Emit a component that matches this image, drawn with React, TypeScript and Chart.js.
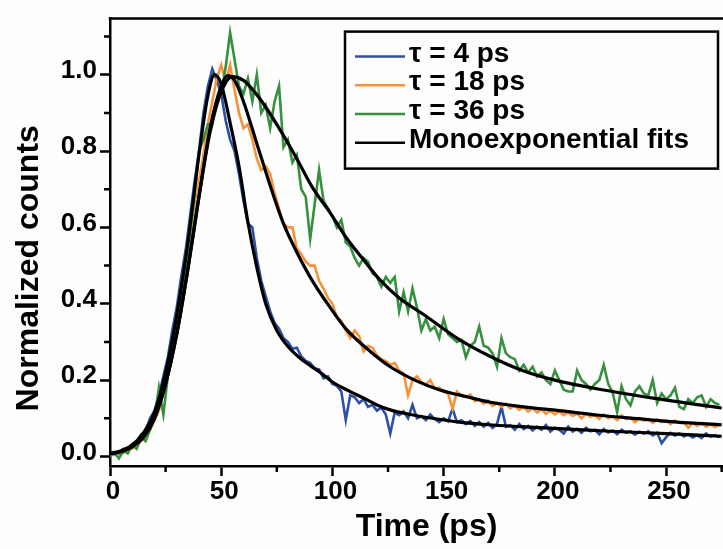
import React, { useEffect, useRef } from 'react';
import { Chart, registerables } from 'chart.js';

Chart.register(...registerables);

const FONT = "'Liberation Sans', Arial, Helvetica, sans-serif";

const X_TITLE = 'Time (ps)';
const Y_TITLE = 'Normalized counts';

const SERIES_LABELS = ['τ = 4 ps', 'τ = 18 ps', 'τ = 36 ps'];
const FIT_LABEL = 'Monoexponential fits';
const SERIES_COLORS = ['#2d50a5', '#f7923a', '#36903f'];
const FIT_COLOR = '#000000';

const X_TICKS = [0, 25, 50, 75, 100, 125, 150, 175, 200, 225, 250, 275];
const Y_TICKS = [0, 0.1, 0.2, 0.3, 0.4, 0.5, 0.6, 0.7, 0.8, 0.9, 1.0, 1.1];

const TIME_PS = [
  0, 2, 4, 6, 8, 10, 12, 14, 16, 18,
  20, 22, 24, 26, 28, 30, 32, 34, 36, 38,
  40, 42, 44, 46, 48, 50, 52, 54, 56, 58,
  60, 62, 64, 66, 68, 70, 72, 74, 76, 78,
  80, 82, 84, 86, 88, 90, 92, 94, 96, 98,
  100, 102, 104, 106, 108, 110, 112, 114, 116, 118,
  120, 122, 124, 126, 128, 130, 132, 134, 136, 138,
  140, 142, 144, 146, 148, 150, 152, 154, 156, 158,
  160, 162, 164, 166, 168, 170, 172, 174, 176, 178,
  180, 182, 184, 186, 188, 190, 192, 194, 196, 198,
  200, 202, 204, 206, 208, 210, 212, 214, 216, 218,
  220, 222, 224, 226, 228, 230, 232, 234, 236, 238,
  240, 242, 244, 246, 248, 250, 252, 254, 256, 258,
  260, 262, 264, 266, 268, 270, 272, 274,
];

const COUNTS_4PS = [
  0.005, 0.012, 0.008, 0.02, 0.018, 0.033, 0.038, 0.058, 0.066, 0.1,
  0.12, 0.16, 0.21, 0.26, 0.33, 0.39, 0.47, 0.54, 0.63, 0.72,
  0.8, 0.9, 0.97, 1.015, 0.985, 0.95, 0.88, 0.83, 0.8, 0.74,
  0.67, 0.61, 0.6, 0.52, 0.46, 0.42, 0.38, 0.35, 0.335, 0.31,
  0.3, 0.282, 0.285, 0.262, 0.25, 0.245, 0.23, 0.228, 0.205, 0.21,
  0.19, 0.185, 0.17, 0.095, 0.16, 0.155, 0.14, 0.15, 0.13, 0.135,
  0.12, 0.128, 0.11, 0.06, 0.115, 0.108, 0.118, 0.1, 0.135, 0.1,
  0.105, 0.095, 0.11, 0.098, 0.09, 0.1, 0.092, 0.125, 0.09, 0.095,
  0.085, 0.093, 0.08, 0.09, 0.078, 0.088, 0.075, 0.085, 0.13, 0.078,
  0.082, 0.07, 0.085, 0.072, 0.08, 0.068, 0.078, 0.07, 0.082, 0.065,
  0.075, 0.07, 0.06, 0.078, 0.065, 0.072, 0.062, 0.075, 0.066, 0.07,
  0.058, 0.072, 0.063, 0.068, 0.058, 0.07, 0.062, 0.066, 0.057, 0.065,
  0.06, 0.066, 0.055, 0.062, 0.035, 0.05, 0.062, 0.055, 0.06, 0.052,
  0.058, 0.05, 0.056, 0.048, 0.06, 0.052, 0.056, 0.05,
];

const COUNTS_18PS = [
  0.006, 0.004, 0.012, 0.009, 0.022, 0.02, 0.03, 0.04, 0.055, 0.07,
  0.095, 0.12, 0.17, 0.22, 0.27, 0.33, 0.4, 0.47, 0.55, 0.63,
  0.72, 0.79, 0.87, 0.93, 0.99, 1.025, 0.98, 1.025, 0.96, 0.9,
  0.86, 0.87, 0.83, 0.78, 0.75, 0.76, 0.74, 0.69, 0.65, 0.61,
  0.6, 0.6, 0.545, 0.53, 0.51, 0.5, 0.5, 0.46, 0.44, 0.415,
  0.4, 0.365, 0.355, 0.33, 0.31, 0.33, 0.315, 0.275, 0.29, 0.285,
  0.265, 0.255, 0.25, 0.24, 0.245, 0.225, 0.218, 0.16, 0.2, 0.21,
  0.195, 0.188, 0.2, 0.178, 0.18, 0.17, 0.165, 0.125, 0.17, 0.16,
  0.155, 0.162, 0.145, 0.15, 0.138, 0.146, 0.132, 0.14, 0.13, 0.138,
  0.126, 0.133, 0.122, 0.13, 0.118, 0.127, 0.115, 0.124, 0.112, 0.12,
  0.11, 0.118, 0.108, 0.116, 0.106, 0.112, 0.1, 0.112, 0.104, 0.108,
  0.098, 0.11, 0.1, 0.105, 0.095, 0.108, 0.098, 0.102, 0.09, 0.1,
  0.094, 0.098, 0.088, 0.097, 0.09, 0.094, 0.085, 0.094, 0.088, 0.09,
  0.075, 0.088, 0.08, 0.087, 0.078, 0.084, 0.077, 0.082,
];

const COUNTS_36PS = [
  0.0, 0.01, -0.005, 0.015, 0.008, 0.03, 0.02, 0.05, 0.04, 0.07,
  0.1, 0.18, 0.11, 0.21, 0.27, 0.35, 0.42, 0.5, 0.58, 0.68,
  0.8, 0.83, 0.87, 0.87, 0.93, 0.95, 1.02, 1.11, 1.04, 0.97,
  0.95, 0.99, 0.93, 1.0, 0.9, 0.92, 0.86, 0.93, 0.97, 0.81,
  0.83, 0.77, 0.79, 0.7, 0.68, 0.57, 0.66, 0.75, 0.67, 0.65,
  0.63, 0.6, 0.62, 0.56, 0.55, 0.52, 0.5, 0.52, 0.51, 0.48,
  0.47, 0.445, 0.47, 0.455, 0.47, 0.38, 0.43, 0.38, 0.44, 0.39,
  0.33, 0.36, 0.33, 0.34, 0.31, 0.36, 0.32, 0.31, 0.3, 0.305,
  0.26, 0.29, 0.3, 0.34, 0.29, 0.285, 0.27, 0.235, 0.31, 0.27,
  0.26, 0.255, 0.225, 0.24, 0.22, 0.235, 0.21, 0.22, 0.2, 0.19,
  0.225, 0.2, 0.175, 0.17, 0.17, 0.225, 0.2, 0.19, 0.175, 0.19,
  0.2, 0.24, 0.19, 0.167, 0.116, 0.184, 0.15, 0.134, 0.17, 0.184,
  0.165, 0.16, 0.2, 0.14, 0.165, 0.15, 0.16, 0.18, 0.13, 0.124,
  0.15, 0.14, 0.155, 0.16, 0.13, 0.15, 0.14, 0.135,
];

const FIT_4PS_T = [0, 5, 10, 15, 20, 25, 30, 35, 40, 44, 47, 50, 54, 58, 62, 66, 70, 75, 80, 85, 90, 95, 100, 108, 115, 120, 126, 135, 145, 157, 170, 185, 202, 225, 250, 275];
const FIT_4PS_V = [0.007, 0.015, 0.03, 0.062, 0.115, 0.22, 0.37, 0.56, 0.79, 0.945, 1.0, 0.975, 0.874, 0.76, 0.614, 0.495, 0.4, 0.33, 0.288, 0.26, 0.238, 0.218, 0.195, 0.17, 0.15, 0.135, 0.122, 0.11, 0.1, 0.09, 0.083, 0.078, 0.073, 0.066, 0.06, 0.053];

const FIT_18PS_T = [0, 5, 10, 15, 20, 25, 30, 35, 40, 45, 50, 53, 56, 60, 66, 72, 78, 84, 91, 99, 106, 117, 126, 137, 148, 160, 171, 186, 202, 220, 237, 255, 275];
const FIT_18PS_V = [0.007, 0.013, 0.026, 0.05, 0.1, 0.19, 0.32, 0.49, 0.68, 0.86, 0.97, 0.998, 0.985, 0.93, 0.82, 0.71, 0.61, 0.535, 0.46, 0.39, 0.335, 0.275, 0.235, 0.2, 0.175, 0.157, 0.142, 0.13, 0.12, 0.108, 0.099, 0.09, 0.083];

const FIT_36PS_T = [0, 5, 10, 15, 20, 25, 30, 35, 40, 45, 50, 55, 60, 65, 69, 76, 84, 91, 99, 106, 114, 121, 130, 141, 156, 171, 186, 200, 222, 245, 275];
const FIT_36PS_V = [0.007, 0.013, 0.026, 0.05, 0.1, 0.19, 0.32, 0.49, 0.68, 0.85, 0.955, 0.995, 0.985, 0.955, 0.924, 0.86, 0.78, 0.705, 0.638, 0.575, 0.515, 0.465, 0.415, 0.372, 0.31, 0.262, 0.224, 0.2, 0.174, 0.152, 0.127];

const zip = (xs: number[], ys: number[]) => xs.map((x, i) => ({ x, y: ys[i] }));

const decorPlugin = {
  id: 'decor',
  beforeDraw(chart: any) {
    const { ctx, width, height } = chart;
    ctx.save();
    ctx.fillStyle = '#fdfdfd';
    ctx.fillRect(0, 0, width, height);
    ctx.restore();
  },
  afterDraw(chart: any) {
    const { ctx, chartArea: a } = chart;
    const xs = chart.scales.x;
    const ys = chart.scales.y;
    ctx.save();
    ctx.strokeStyle = '#000';
    ctx.lineWidth = 2.5;
    ctx.lineCap = 'butt';
    ctx.beginPath();
    ctx.moveTo(a.left - 1.25, a.top);
    ctx.lineTo(a.right, a.top);
    Y_TICKS.forEach((v, i) => {
      if (i % 2 === 1) {
        const p = ys.getPixelForValue(v);
        ctx.moveTo(a.left - 6, p);
        ctx.lineTo(a.left, p);
      }
    });
    X_TICKS.forEach((v, i) => {
      if (i % 2 === 1) {
        const p = xs.getPixelForValue(v);
        ctx.moveTo(p, a.bottom);
        ctx.lineTo(p, a.bottom + 6);
      }
    });
    ctx.stroke();

    // axis titles
    ctx.fillStyle = '#000';
    ctx.font = `bold 32px ${FONT}`;
    ctx.textAlign = 'center';
    ctx.textBaseline = 'alphabetic';
    ctx.fillText(X_TITLE, (a.left + a.right) / 2 + 10, a.bottom + 70);
    ctx.save();
    ctx.translate(a.left - 72, (a.top + a.bottom) / 2 + 26);
    ctx.rotate(-Math.PI / 2);
    ctx.fillText(Y_TITLE, 0, 0);
    ctx.restore();

    // legend
    const bx = a.left + 235;
    const by = a.top + 13;
    const bw = a.right - 5 - bx;
    const bh = 137;
    ctx.lineWidth = 2.5;
    ctx.strokeRect(bx, by, bw, bh);
    const labels = [...SERIES_LABELS, FIT_LABEL];
    const colors = [...SERIES_COLORS, FIT_COLOR];
    ctx.font = `bold 28px ${FONT}`;
    ctx.textAlign = 'left';
    labels.forEach((lab, i) => {
      const base = by + 30 + i * 28.7;
      ctx.strokeStyle = colors[i];
      ctx.lineWidth = 2.5;
      ctx.beginPath();
      ctx.moveTo(bx + 10, base - 5);
      ctx.lineTo(bx + 60, base - 5);
      ctx.stroke();
      ctx.fillStyle = '#000';
      ctx.fillText(lab, bx + 64, base);
    });
    ctx.restore();
  },
};

export default function App() {
  const ref = useRef<HTMLCanvasElement | null>(null);

  useEffect(() => {
    if (!ref.current) return;
    const tickFont = { family: FONT, size: 26, weight: 'bold' as const };
    const lineBase = { pointRadius: 0, pointHoverRadius: 0, fill: false, tension: 0 };
    const chart = new Chart(ref.current, {
      type: 'line',
      data: {
        datasets: [
          { ...lineBase, label: FIT_LABEL, data: zip(FIT_4PS_T, FIT_4PS_V), borderColor: FIT_COLOR, borderWidth: 3.2, cubicInterpolationMode: 'monotone', order: 0 },
          { ...lineBase, label: FIT_LABEL + ' 18', data: zip(FIT_18PS_T, FIT_18PS_V), borderColor: FIT_COLOR, borderWidth: 3.2, cubicInterpolationMode: 'monotone', order: 0 },
          { ...lineBase, label: FIT_LABEL + ' 36', data: zip(FIT_36PS_T, FIT_36PS_V), borderColor: FIT_COLOR, borderWidth: 3.2, cubicInterpolationMode: 'monotone', order: 0 },
          { ...lineBase, label: SERIES_LABELS[2], data: zip(TIME_PS, COUNTS_36PS), borderColor: SERIES_COLORS[2], borderWidth: 2.6, order: 1 },
          { ...lineBase, label: SERIES_LABELS[1], data: zip(TIME_PS, COUNTS_18PS), borderColor: SERIES_COLORS[1], borderWidth: 2.6, order: 2 },
          { ...lineBase, label: SERIES_LABELS[0], data: zip(TIME_PS, COUNTS_4PS), borderColor: SERIES_COLORS[0], borderWidth: 2.6, order: 3 },
        ] as any,
      },
      options: {
        animation: false,
        responsive: false,
        devicePixelRatio: 1,
        parsing: false as any,
        normalized: true,
        layout: { padding: { top: 2, right: 0, left: 0, bottom: 0 } },
        plugins: { legend: { display: false }, tooltip: { enabled: false }, title: { display: false } },
        events: [],
        scales: {
          x: {
            type: 'linear',
            min: 0,
            max: 275.6,
            afterBuildTicks: (s: any) => { s.ticks = X_TICKS.map((v) => ({ value: v })); },
            afterFit: (s: any) => { s.height = 83; },
            ticks: {
              autoSkip: false,
              maxRotation: 0,
              padding: 0,
              labelOffset: 3,
              color: '#000',
              font: tickFont,
              callback: (v: any, i: number) => (i % 2 === 0 ? String(X_TICKS[i]) : ''),
            },
            grid: {
              drawOnChartArea: false,
              drawTicks: true,
              tickLength: 10,
              tickWidth: 2.5,
              tickColor: (c: any) => (c.index % 2 === 0 ? '#000' : 'rgba(0,0,0,0)'),
            },
            border: { display: true, color: '#000', width: 2.5 },
          },
          y: {
            type: 'linear',
            min: -0.025,
            max: 1.147,
            afterBuildTicks: (s: any) => { s.ticks = Y_TICKS.map((v) => ({ value: v })); },
            afterFit: (s: any) => { s.width = 110; },
            ticks: {
              autoSkip: false,
              padding: 3,
              labelOffset: -4,
              color: '#000',
              font: tickFont,
              callback: (v: any, i: number) => (i % 2 === 0 ? Y_TICKS[i].toFixed(1) : ''),
            },
            grid: {
              drawOnChartArea: false,
              drawTicks: true,
              tickLength: 10,
              tickWidth: 2.5,
              tickColor: (c: any) => (c.index % 2 === 0 ? '#000' : 'rgba(0,0,0,0)'),
            },
            border: { display: true, color: '#000', width: 2.5 },
          },
        },
      } as any,
      plugins: [decorPlugin],
    });
    return () => chart.destroy();
  }, []);

  return (
    <div style={{ position: 'absolute', left: 0, top: 0, width: 723, height: 549 }}>
      <canvas ref={ref} width={723} height={549} style={{ width: 723, height: 549, display: 'block' }} />
    </div>
  );
}
